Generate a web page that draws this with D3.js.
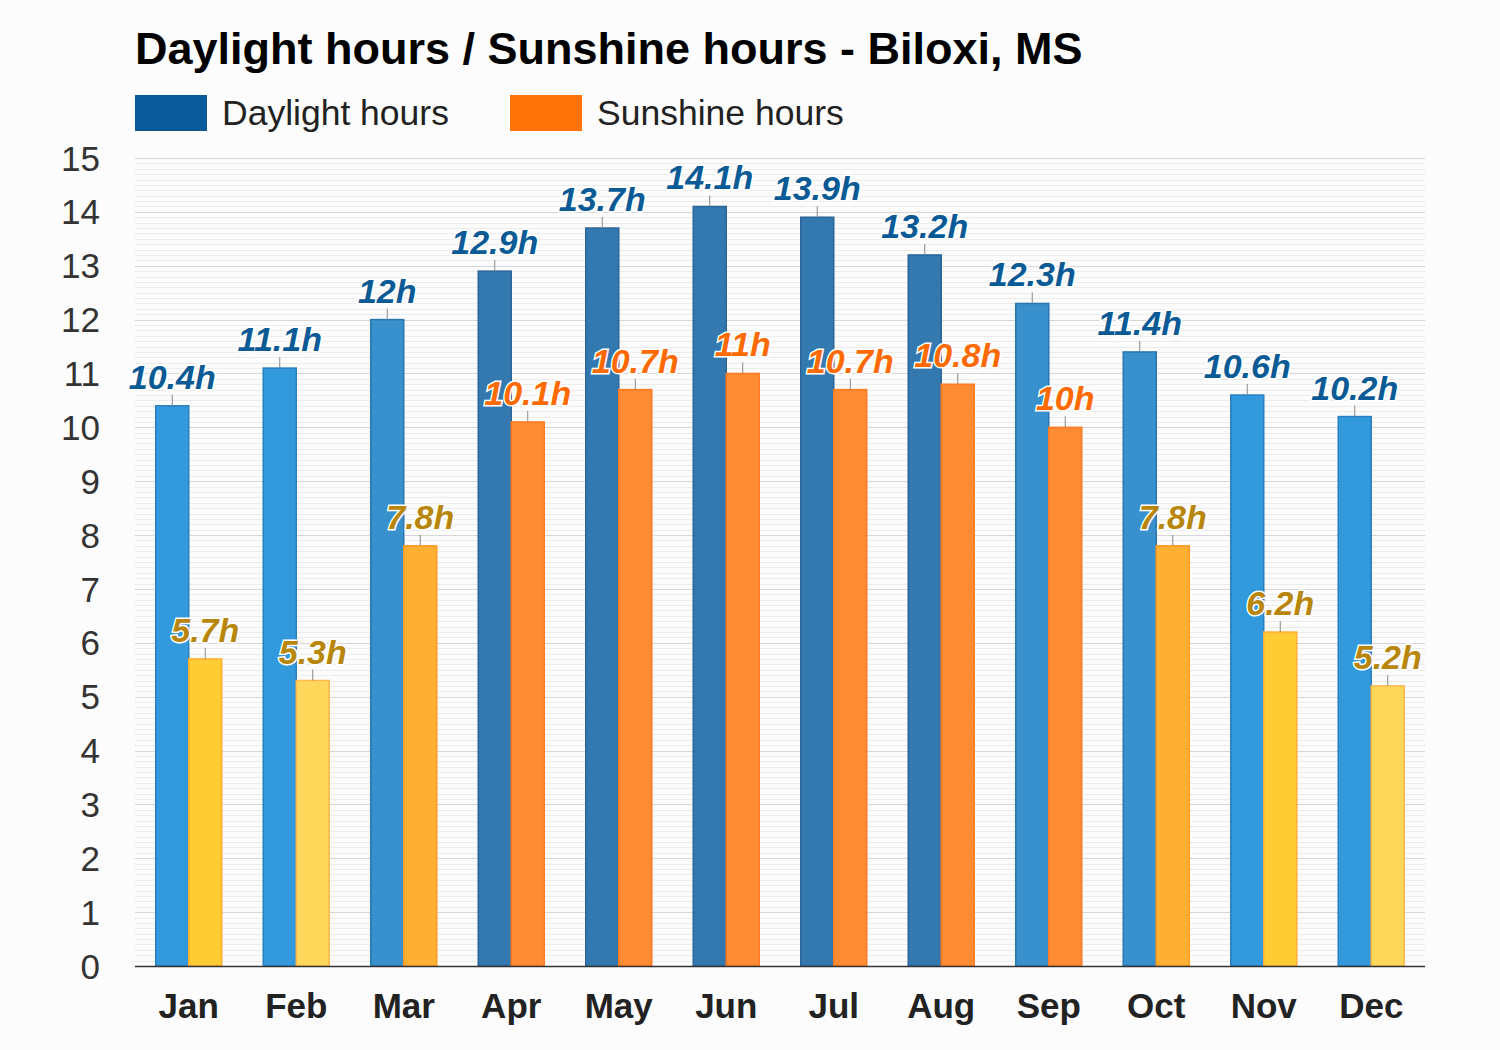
<!DOCTYPE html>
<html>
<head>
<meta charset="utf-8">
<script src="https://cdn.jsdelivr.net/npm/d3@7"></script>
<style>
  body { margin: 0; background: #fcfcfc; }
  svg { font-family: "Liberation Sans", Arial, sans-serif; }
</style>
</head>
<body>
<div id="chart"></div>
<script>
var months = ["Jan","Feb","Mar","Apr","May","Jun","Jul","Aug","Sep","Oct","Nov","Dec"];
var daylight = [10.4, 11.1, 12, 12.9, 13.7, 14.1, 13.9, 13.2, 12.3, 11.4, 10.6, 10.2];
var sunshine = [5.7, 5.3, 7.8, 10.1, 10.7, 11, 10.7, 10.8, 10, 7.8, 6.2, 5.2];
var yTicks = [0,1,2,3,4,5,6,7,8,9,10,11,12,13,14,15];
var seriesNames = ["Daylight hours", "Sunshine hours"];

(function() {
  var W = 1500, H = 1050,
    pLeft = 135, pRight = 1425, pTop = 158, pBottom = 966;

  var svg = d3.select("#chart").append("svg")
    .attr("width", W).attr("height", H);

  svg.append("rect").attr("width", W).attr("height", H).attr("fill", "#fcfcfc");

  var x = d3.scaleBand().domain(months).range([pLeft, pRight]);
  var y = d3.scaleLinear().domain([0, 15]).range([pBottom, pTop]);
  var barW = 33;

  // colour steps by value
  var dayFill = d3.scaleThreshold().domain([11.3, 12.5]).range(["#3399dd", "#3890cc", "#3478b0"]);
  var dayStroke = d3.scaleThreshold().domain([11.3, 12.5]).range(["#2a7fbf", "#2a77b0", "#2b6597"]);
  var sunFill = d3.scaleThreshold().domain([5.5, 7, 9]).range(["#ffd75a", "#ffcc33", "#ffb033", "#ff8b33"]);
  var sunStroke = d3.scaleThreshold().domain([5.5, 7, 9]).range(["#ffb84d", "#ffae33", "#ff9a22", "#ff7a22"]);
  var sunLabel = d3.scaleThreshold().domain([9]).range(["#b8860b", "#ff6a00"]);

  // grid: minor every 0.1, major every 1
  var minor = d3.range(0, 150).map(function(d){ return d / 10; });
  svg.append("g").selectAll("line").data(minor).join("line")
    .attr("x1", pLeft).attr("x2", pRight)
    .attr("y1", function(d){ return Math.round(y(d)) + 0.5; })
    .attr("y2", function(d){ return Math.round(y(d)) + 0.5; })
    .attr("stroke", "#ececec").attr("stroke-width", 1);
  svg.append("g").selectAll("line").data(yTicks).join("line")
    .attr("x1", pLeft).attr("x2", pRight)
    .attr("y1", function(d){ return Math.round(y(d)) + 0.5; })
    .attr("y2", function(d){ return Math.round(y(d)) + 0.5; })
    .attr("stroke", "#d6d6d6").attr("stroke-width", 1);

  // y labels
  svg.append("g").selectAll("text").data(yTicks).join("text")
    .attr("x", 100).attr("y", function(d){ return y(d); })
    .attr("dy", "0.36em").attr("text-anchor", "end")
    .attr("font-size", 35).attr("fill", "#333")
    .text(function(d){ return d; });

  // bars
  var g = svg.append("g");
  months.forEach(function(m, i) {
    var cx = x(m) + x.bandwidth() / 2;
    var d = daylight[i], s = sunshine[i];
    g.append("rect")
      .attr("x", cx - barW).attr("y", y(d))
      .attr("width", barW).attr("height", y(0) - y(d))
      .attr("fill", dayFill(d)).attr("stroke", dayStroke(d)).attr("stroke-width", 1.5);
    g.append("rect")
      .attr("x", cx).attr("y", y(s))
      .attr("width", barW).attr("height", y(0) - y(s))
      .attr("fill", sunFill(s)).attr("stroke", sunStroke(s)).attr("stroke-width", 1.5);
  });

  // labels with ticks
  var lab = svg.append("g");
  months.forEach(function(m, i) {
    var cx = x(m) + x.bandwidth() / 2;
    [[daylight[i], cx - barW / 2, "#0a5a96"], [sunshine[i], cx + barW / 2, sunLabel(sunshine[i])]].forEach(function(p) {
      lab.append("line")
        .attr("x1", p[1]).attr("x2", p[1])
        .attr("y1", y(p[0]) - 11).attr("y2", y(p[0]))
        .attr("stroke", "#888").attr("stroke-width", 1);
      lab.append("text")
        .attr("x", p[1]).attr("y", y(p[0]) - 17)
        .attr("text-anchor", "middle")
        .attr("font-size", 34).attr("font-weight", "bold").attr("font-style", "italic")
        .attr("fill", p[2])
        .attr("stroke", "#fff").attr("stroke-width", 3).attr("paint-order", "stroke")
        .text(p[0] + "h");
    });
  });

  // x axis
  svg.append("line")
    .attr("x1", pLeft).attr("x2", pRight)
    .attr("y1", pBottom + 0.5).attr("y2", pBottom + 0.5)
    .attr("stroke", "#333").attr("stroke-width", 1.5);
  svg.append("g").selectAll("text").data(months).join("text")
    .attr("x", function(d){ return x(d) + x.bandwidth() / 2; })
    .attr("y", 1018).attr("text-anchor", "middle")
    .attr("font-size", 35).attr("font-weight", "bold").attr("fill", "#222")
    .text(function(d){ return d; });

  // title
  svg.append("text").attr("x", 135).attr("y", 64)
    .attr("font-size", 45).attr("font-weight", "bold").attr("fill", "#000")
    .text("Daylight hours / Sunshine hours - Biloxi, MS");

  // legend
  var legX = [135, 510], legC = ["#0a5a9a", "#ff7308"];
  seriesNames.forEach(function(n, i) {
    svg.append("rect").attr("x", legX[i]).attr("y", 95).attr("width", 72).attr("height", 36).attr("fill", legC[i]);
    svg.append("text").attr("x", legX[i] + 87).attr("y", 125)
      .attr("font-size", 35.5).attr("fill", "#222").text(n);
  });
})();
</script>
</body>
</html>
